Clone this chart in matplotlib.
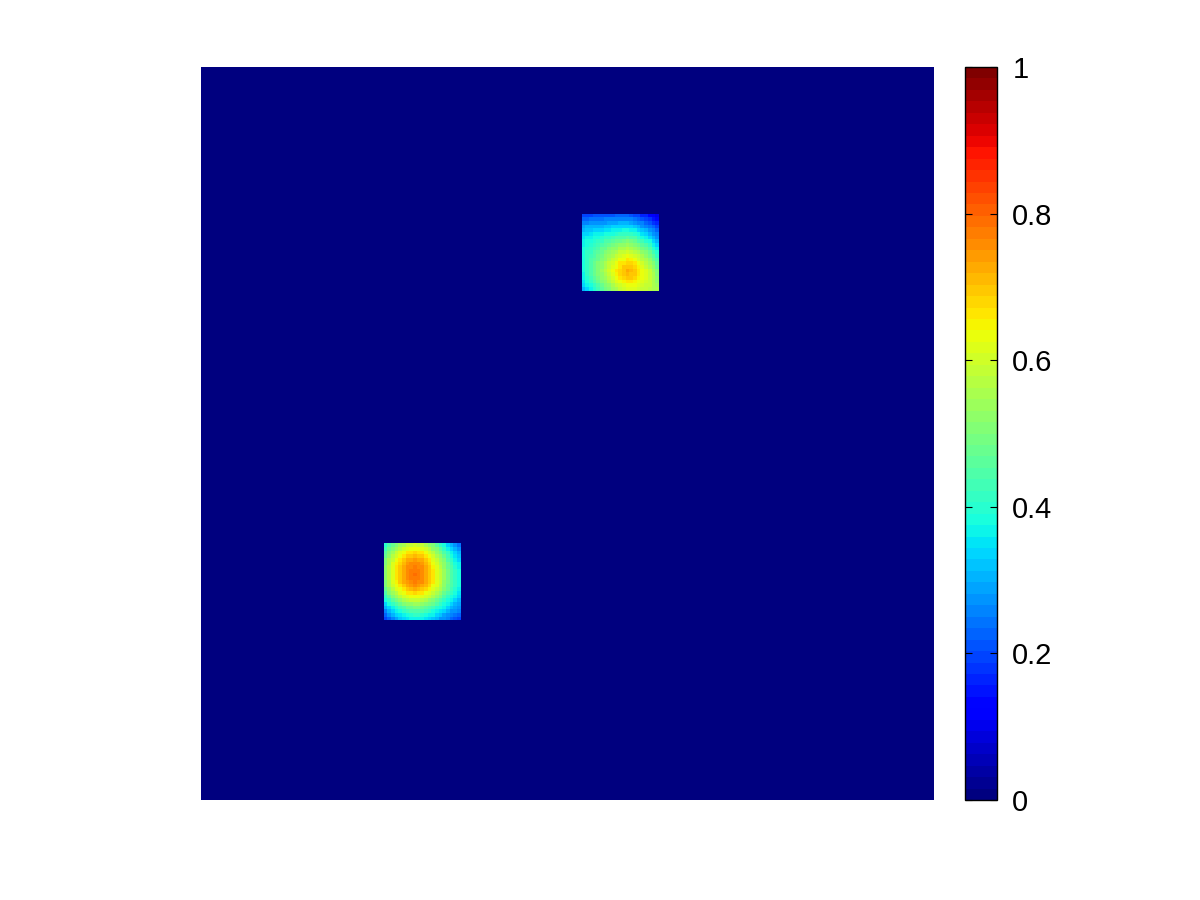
import numpy as np
import matplotlib
matplotlib.use("Agg")
import matplotlib.pyplot as plt

plt.rcParams['font.family'] = ['Liberation Sans', 'DejaVu Sans']

# grid size and where the two patches sit (row, col of top-left cell)
grid_n = 200
top_patch_pos = (40, 104)
low_patch_pos = (130, 50)

# values, in hundredths
top_patch = [
    [20, 20, 20, 21, 21, 21, 21, 21, 21, 22, 22, 22, 22, 21, 20, 19, 17, 16, 14, 12, 10],
    [23, 23, 24, 24, 24, 24, 25, 25, 25, 25, 26, 26, 26, 25, 24, 23, 21, 19, 18, 15, 13],
    [26, 26, 27, 27, 27, 28, 28, 29, 29, 29, 30, 30, 30, 29, 28, 26, 25, 23, 21, 18, 16],
    [29, 30, 30, 30, 31, 31, 32, 32, 33, 33, 33, 34, 34, 33, 32, 30, 28, 26, 24, 22, 19],
    [31, 32, 32, 33, 34, 34, 35, 35, 36, 37, 37, 38, 38, 37, 36, 34, 32, 30, 28, 25, 22],
    [33, 34, 35, 36, 36, 37, 38, 39, 39, 40, 41, 42, 42, 41, 40, 38, 35, 33, 31, 28, 25],
    [35, 36, 37, 38, 39, 40, 41, 42, 43, 44, 45, 45, 46, 45, 44, 41, 39, 37, 34, 31, 28],
    [36, 38, 39, 40, 41, 42, 44, 45, 46, 47, 48, 49, 50, 49, 48, 45, 43, 40, 38, 34, 31],
    [37, 39, 40, 42, 43, 45, 46, 48, 49, 51, 52, 53, 54, 53, 51, 49, 46, 44, 41, 37, 34],
    [38, 40, 42, 43, 45, 47, 48, 50, 52, 53, 55, 56, 57, 56, 54, 52, 49, 47, 44, 40, 37],
    [38, 41, 42, 44, 46, 48, 50, 52, 54, 56, 58, 59, 60, 59, 57, 55, 52, 50, 47, 43, 40],
    [38, 41, 43, 45, 47, 49, 52, 54, 56, 58, 60, 62, 63, 62, 60, 58, 55, 52, 49, 46, 42],
    [38, 41, 44, 46, 48, 51, 53, 56, 58, 60, 63, 64, 66, 65, 63, 60, 57, 55, 52, 48, 44],
    [38, 42, 44, 47, 50, 52, 55, 58, 60, 63, 66, 67, 68, 68, 66, 63, 60, 57, 54, 50, 46],
    [38, 42, 45, 47, 50, 53, 56, 59, 62, 64, 67, 69, 70, 70, 68, 65, 62, 59, 56, 52, 48],
    [38, 42, 45, 48, 51, 54, 57, 60, 63, 66, 68, 70, 72, 71, 69, 67, 64, 61, 58, 54, 50],
    [37, 41, 44, 47, 50, 53, 56, 59, 62, 65, 68, 70, 71, 70, 69, 67, 64, 61, 58, 55, 51],
    [36, 40, 43, 46, 49, 52, 54, 57, 60, 63, 66, 68, 69, 69, 68, 65, 63, 61, 58, 55, 52],
    [35, 39, 41, 44, 47, 50, 52, 55, 58, 61, 63, 65, 67, 66, 65, 63, 62, 60, 58, 55, 53],
    [33, 37, 39, 42, 45, 47, 50, 53, 55, 58, 60, 62, 64, 64, 63, 61, 60, 59, 58, 56, 54],
    [31, 34, 37, 40, 43, 46, 49, 51, 54, 56, 58, 60, 61, 61, 61, 60, 59, 58, 57, 56, 55],
]

low_patch = [
    [40, 44, 48, 51, 54, 56, 58, 59, 60, 59, 58, 56, 53, 50, 46, 42, 38, 34, 30, 27, 24],
    [43, 47, 51, 54, 57, 60, 62, 63, 64, 63, 62, 60, 57, 53, 50, 46, 41, 37, 33, 30, 27],
    [46, 50, 54, 58, 61, 64, 66, 67, 68, 67, 66, 63, 60, 57, 53, 49, 45, 41, 36, 33, 30],
    [48, 53, 57, 60, 64, 66, 69, 70, 71, 70, 69, 66, 63, 60, 56, 52, 47, 43, 39, 35, 32],
    [50, 55, 59, 63, 66, 69, 72, 73, 74, 73, 72, 69, 66, 62, 58, 54, 50, 45, 41, 37, 34],
    [51, 56, 61, 65, 68, 71, 74, 75, 76, 75, 74, 71, 68, 64, 60, 56, 52, 47, 43, 39, 36],
    [52, 57, 62, 66, 69, 72, 75, 76, 77, 76, 75, 72, 69, 65, 61, 57, 53, 48, 44, 40, 37],
    [52, 57, 62, 66, 70, 73, 75, 77, 78, 77, 76, 73, 70, 66, 62, 58, 54, 49, 45, 41, 38],
    [52, 57, 62, 66, 70, 73, 75, 77, 79, 77, 76, 73, 70, 66, 62, 58, 54, 49, 45, 41, 38],
    [52, 57, 62, 66, 70, 73, 75, 77, 78, 77, 76, 73, 70, 66, 62, 58, 54, 49, 45, 41, 38],
    [51, 56, 61, 65, 69, 72, 74, 76, 77, 76, 75, 72, 69, 66, 62, 58, 53, 49, 45, 41, 38],
    [50, 55, 60, 64, 67, 70, 73, 74, 75, 74, 73, 71, 68, 64, 61, 57, 52, 48, 44, 41, 38],
    [48, 53, 57, 61, 64, 67, 70, 71, 72, 71, 70, 68, 65, 62, 58, 55, 51, 47, 43, 40, 37],
    [45, 50, 54, 57, 61, 63, 66, 67, 68, 67, 66, 64, 61, 58, 55, 52, 48, 44, 41, 38, 35],
    [42, 46, 50, 54, 57, 60, 62, 63, 64, 63, 62, 60, 58, 55, 52, 49, 45, 42, 38, 36, 33],
    [38, 42, 46, 49, 52, 55, 57, 58, 59, 58, 57, 56, 53, 51, 48, 45, 42, 39, 36, 33, 31],
    [34, 38, 42, 45, 48, 50, 52, 53, 54, 54, 53, 51, 49, 47, 44, 42, 39, 36, 33, 31, 29],
    [30, 34, 37, 40, 43, 45, 47, 48, 49, 49, 48, 46, 45, 43, 40, 38, 36, 33, 31, 29, 27],
    [26, 30, 33, 36, 39, 41, 43, 44, 45, 45, 44, 43, 41, 39, 37, 35, 33, 31, 28, 27, 25],
    [23, 27, 30, 33, 35, 37, 39, 40, 41, 41, 40, 39, 37, 36, 34, 32, 29, 27, 25, 24, 22],
    [20, 23, 26, 29, 32, 34, 35, 36, 37, 37, 36, 35, 34, 32, 30, 28, 27, 25, 23, 21, 20],
]

cbar_ticks = [0, 0.2, 0.4, 0.6, 0.8, 1]
cbar_labels = ['0', '0.2', '0.4', '0.6', '0.8', '1']


field = np.zeros((grid_n, grid_n))
for patch, (r0, c0) in ((top_patch, top_patch_pos), (low_patch, low_patch_pos)):
    arr = np.array(patch) / 100.0
    field[r0:r0 + arr.shape[0], c0:c0 + arr.shape[1]] = arr

fig = plt.figure(figsize=(12, 9), dpi=100)
ax = fig.add_axes([201 / 1200, 100 / 900, 733 / 1200, 733 / 900])
cax = fig.add_axes([965 / 1200, 100 / 900, 32 / 1200, 733 / 900])

cmap = plt.get_cmap('jet', 64)
# shift by half a cell so the patches land where they sit in the picture
im = ax.imshow(field, cmap=cmap, vmin=0, vmax=1, interpolation='nearest',
               aspect='auto', origin='upper',
               extent=(-0.2, grid_n - 0.2, grid_n, 0))
ax.set_xlim(0, grid_n)
ax.set_ylim(grid_n, 0)
ax.set_axis_off()

cb = fig.colorbar(im, cax=cax)
cb.set_ticks(cbar_ticks)
cb.set_ticklabels(cbar_labels)
cax.tick_params(axis='y', direction='in', length=5, width=0.8, labelsize=21,
                left=True, right=True, pad=11)
cb.outline.set_linewidth(1.0)

fig.savefig('out.png', dpi=100)
